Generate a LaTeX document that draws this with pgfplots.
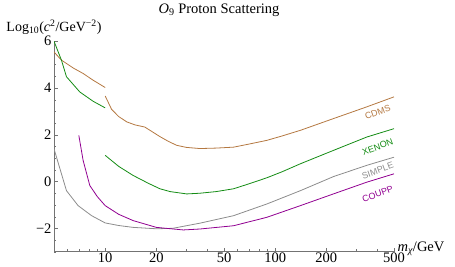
\documentclass[border=0pt]{standalone}
\usepackage{pgfplots}
\pgfplotsset{compat=1.18}
\usepackage{fontspec}
\setmainfont{Liberation Serif}
\newfontfamily\labfont{Liberation Sans}
\definecolor{cdms}{RGB}{180,120,65}
\definecolor{xenon}{RGB}{20,140,20}
\definecolor{simple}{RGB}{140,140,140}
\definecolor{coupp}{RGB}{145,0,145}
\begin{document}
\begin{tikzpicture}
\begin{axis}[
  name=ax,
  scale only axis, width=340pt, height=210.5pt,
  xmode=log, xmin=5, xmax=500, ymin=-3, ymax=6,
  axis x line=bottom, axis y line=left,
  axis line style={-, black!55},
  tick align=inside, major tick length=4pt, minor tick length=2.2pt,
  tick style={black!55},
  xtick={10,20,50,100,200,500}, xticklabels={10,20,50,100,200,500},
  minor xtick={6,7,8,9,30,40,60,70,80,90,300,400},
  ytick={-2,0,2,4,6}, yticklabels={−2,0,2,4,6},
  minor ytick={-3,-2.5,-1.5,-1,-0.5,0.5,1,1.5,2.5,3,3.5,4.5,5,5.5},
  ticklabel style={font=\fontsize{14.5}{16}\selectfont},
  xticklabel style={yshift=2.5pt},
  yticklabel style={xshift=1pt},
  title={{\itshape O}\textsubscript{9} Proton Scattering},
  title style={at={(rel axis cs:0.5,1)}, anchor=base, yshift=21.5pt, xshift=-5pt, font=\fontsize{14.5}{16}\selectfont},
  ylabel={Log\textsubscript{10}({\itshape c}\textsuperscript{2}/GeV\textsuperscript{−2})},
  ylabel style={at={(rel axis cs:0,1)}, anchor=base, rotate=-90, yshift=9.5pt, font=\fontsize{14}{16}\selectfont},
  xlabel={{\itshape m}\textsubscript{\itshape χ}/GeV},
  xlabel style={at={(rel axis cs:1,0)}, anchor=base west, xshift=0pt, font=\fontsize{14.5}{16}\selectfont},
  every axis plot/.append style={line width=0.8pt},
]
\addplot[cdms] coordinates {(5,5.54)(5.53,5.19)(6.5,4.85)(7.42,4.62)(8.5,4.33)(10,4.02)};
\addplot[cdms] coordinates {(10,3.66)(10.9,3.09)(12,2.78)(13.4,2.55)(15,2.42)(17.1,2.33)(19,2.12)(21,1.92)(23.5,1.72)(26.3,1.55)(30,1.46)(36.1,1.41)(45,1.43)(56.9,1.47)(70,1.6)(89.3,1.76)(110,1.95)(140.8,2.19)(220,2.69)(345,3.19)(500,3.62)};
\addplot[xenon] coordinates {(5,6.0)(5.53,5.19)(5.92,4.48)(7.09,3.83)(8.5,3.43)(10,3.15)};
\addplot[xenon] coordinates {(10,1.12)(12,0.65)(14.6,0.26)(18,-0.08)(21,-0.31)(24.1,-0.43)(30.2,-0.53)(36.1,-0.50)(45,-0.43)(56.9,-0.31)(70,-0.1)(89.3,0.16)(110,0.42)(140.8,0.76)(220,1.33)(345,1.90)(500,2.26)};
\addplot[simple] coordinates {(5,1.40)(5.92,-0.39)(6.93,-1.03)(8.32,-1.46)(10,-1.77)(12,-1.88)(14.6,-1.96)(20,-2.02)(25,-2.0)(36.1,-1.78)(56.9,-1.46)(89.3,-0.96)(140.8,-0.39)(220,0.21)(345,0.69)(500,1.04)};
\addplot[coupp] coordinates {(7.0,1.97)(7.42,0.90)(8.12,-0.17)(9,-0.65)(10,-1.03)(12,-1.4)(14.6,-1.67)(20,-1.96)(28.8,-2.07)(36.1,-2.03)(56.9,-1.89)(89.3,-1.53)(140.8,-1.03)(220,-0.53)(345,-0.03)(500,0.33)};
\node[rotate=20, text=cdms, inner sep=0pt, font=\labfont\fontsize{9}{10}\selectfont] at (axis cs:401,2.97) {CDMS};
\node[rotate=20, text=xenon, inner sep=0pt, font=\labfont\fontsize{9}{10}\selectfont] at (axis cs:401,1.48) {XENON};
\node[rotate=20, text=simple, inner sep=0pt, font=\labfont\fontsize{9}{10}\selectfont] at (axis cs:401,0.47) {SIMPLE};
\node[rotate=20, text=coupp, inner sep=0pt, font=\labfont\fontsize{9}{10}\selectfont] at (axis cs:401,-0.53) {COUPP};
\end{axis}
\pgfresetboundingbox
\path[use as bounding box] ([xshift=-54pt,yshift=-15.3pt]ax.south west) rectangle ([xshift=61pt,yshift=41.2pt]ax.north east);
\end{tikzpicture}
\end{document}
